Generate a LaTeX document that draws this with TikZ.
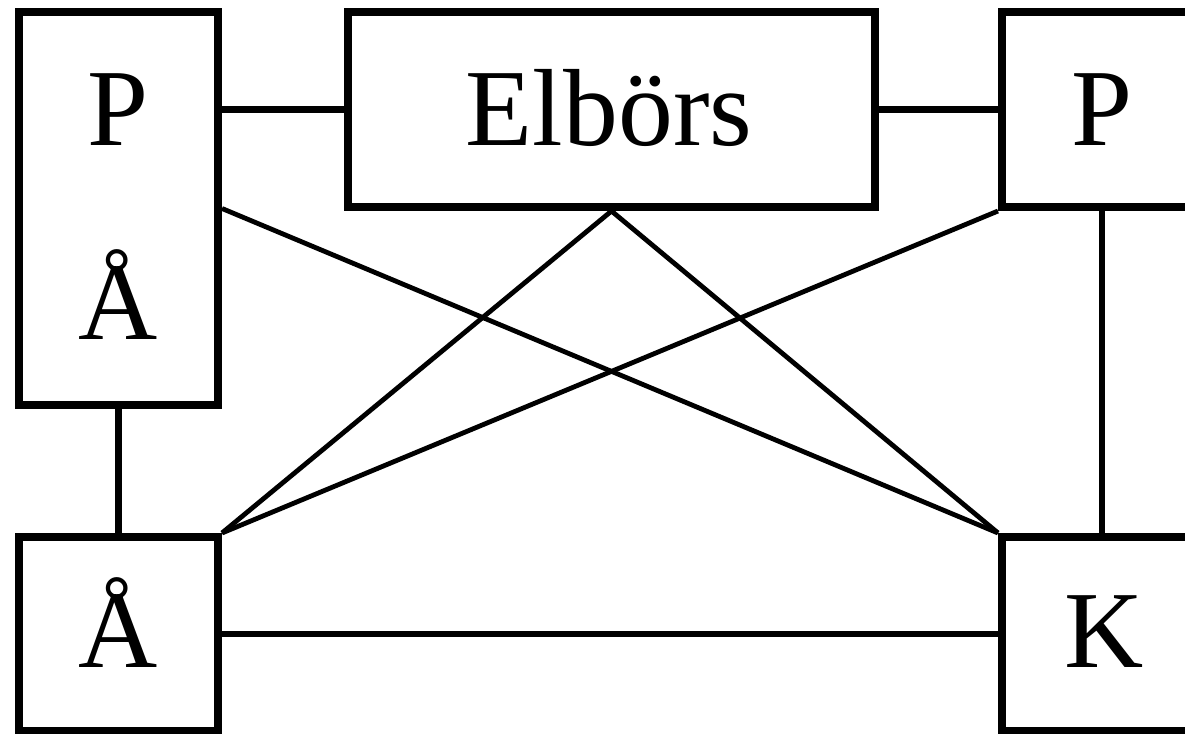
\documentclass[tikz,border=0pt]{standalone}
\usepackage{fontspec}
\setmainfont{Liberation Serif}

\begin{document}
\begin{tikzpicture}[x=0.025cm,y=-0.025cm,
    box/.style={draw,line width=0.2cm,inner sep=0pt,minimum width=#1},
    lbl/.style={anchor=base,inner sep=0pt,font=\fontsize{78}{80}\selectfont},
    conn/.style={line width=0.17cm},
    diag/.style={line width=0.12cm}]
  % Ram
  \useasboundingbox (0,0) rectangle (1185,734);
  \clip (0,0) rectangle (1185,734);

  % Rutor
  \node[box=4.975cm,minimum height=9.825cm] (lbox) at (118.5,208.5) {};
  \node[box=13.175cm,minimum height=4.875cm] (elbors) at (611.5,109.5) {};
  \node[box=6.2cm,minimum height=4.875cm] (rbox) at (1126,109.5) {};
  \node[box=4.975cm,minimum height=4.85cm] (abox) at (118.5,634) {};
  \node[box=6.2cm,minimum height=4.85cm] (kbox) at (1126,634) {};

  % Texter
  \node[lbl] (lp) at (118,146) {P};
  \node[lbl] (la) at (118,340) {Å};
  \node[lbl] (el) at (609,146) {Elbörs};
  \node[lbl] (rp) at (1102,146) {P};
  \node[lbl] (ba) at (118,667) {Å};
  \node[lbl] (bk) at (1104,667) {K};

  % Raka linjer
  \draw[conn] (lbox.east |- elbors.west) -- (elbors.west);
  \draw[conn] (elbors.east) -- (rbox.west |- elbors.east);
  \draw[conn] (lbox.south) -- (abox.north);
  \draw[conn] (rp |- rbox.south) -- (rp |- kbox.north);
  \draw[conn] (abox.east) -- (kbox.west |- abox.east);

  % Diagonaler
  \draw[diag] (lbox.east) -- (kbox.north west);
  \draw[diag] (elbors.south) -- (abox.north east);
  \draw[diag] (elbors.south) -- (kbox.north west);
  \draw[diag] (rbox.south west) -- (abox.north east);
\end{tikzpicture}
\end{document}
